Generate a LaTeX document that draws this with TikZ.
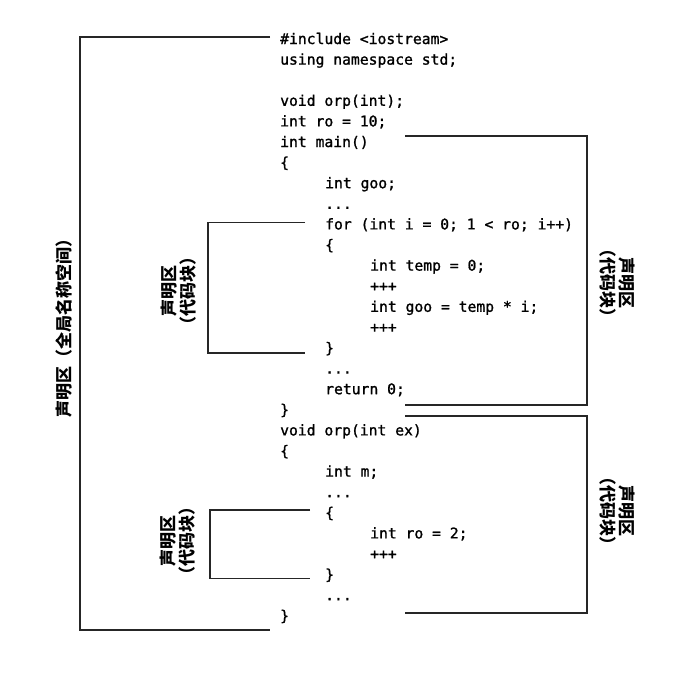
\documentclass[tikz,border=0pt]{standalone}
\usepackage{fontspec}
\setmonofont[FakeBold=1.2]{DejaVu Sans Mono}
\newfontfamily\cjk{Noto Sans CJK SC}

\tikzset{
  code/.style={anchor=west, inner sep=0pt, text height=11pt, text depth=3pt,
    font=\ttfamily\fontsize{14.7}{17}\selectfont},
  brk/.style={line width=1.7pt, color=black!85},
  zone/.style={font=\cjk\bfseries\fontsize{17}{19}\selectfont, align=center, inner sep=0pt}
}

\begin{document}
\begin{tikzpicture}[x=1pt, y=-1pt]
\useasboundingbox (0,0) rectangle (687,672);

% 代码
\node[code] (inc)    at (280, 40.0)  {\#include <iostream>};
\node[code] (usens)  at (280, 60.6)  {using namespace std;};
\node[code] (decl)   at (280, 101.8) {void orp(int);};
\node[code] (ro10)   at (280, 122.4) {int ro = 10;};
\node[code] (mainhd) at (280, 143.0) {int main()};
\node[code] (mainop) at (280, 163.6) {\{};
\node[code] (goo)    at (325, 184.2) {int goo;};
\node[code] (dotsA)  at (325, 204.8) {...};
\node[code] (forhd)  at (325, 225.4) {for (int i = 0; 1 < ro; i++)};
\node[code] (forop)  at (325, 246.0) {\{};
\node[code] (temp)   at (370, 266.6) {int temp = 0;};
\node[code] (plusA)  at (370, 287.2) {+++};
\node[code] (goo2)   at (370, 307.8) {int goo = temp * i;};
\node[code] (plusB)  at (370, 328.4) {+++};
\node[code] (forcl)  at (325, 349.0) {\}};
\node[code] (dotsB)  at (325, 369.6) {...};
\node[code] (ret)    at (325, 390.2) {return 0;};
\node[code] (maincl) at (280, 410.8) {\}};
\node[code] (orphd)  at (280, 431.4) {void orp(int ex)};
\node[code] (orpop)  at (280, 452.0) {\{};
\node[code] (intm)   at (325, 472.6) {int m;};
\node[code] (dotsC)  at (325, 493.2) {...};
\node[code] (blkop)  at (325, 513.8) {\{};
\node[code] (ro2)    at (370, 534.4) {int ro = 2;};
\node[code] (plusC)  at (370, 555.0) {+++};
\node[code] (blkcl)  at (325, 575.6) {\}};
\node[code] (dotsD)  at (325, 596.2) {...};
\node[code] (orpcl)  at (280, 616.8) {\}};

% 声明区的括线
\draw[brk] ([xshift=-10pt,yshift=3pt]inc.west) -- ++(-190,0) |- ([xshift=-10pt,yshift=-13pt]orpcl.west);
\draw[brk] ([xshift=125pt,yshift=7pt]mainhd.west) -- ++(182,0) |- ([xshift=125pt,yshift=6pt]maincl.west);
\draw[brk] ([xshift=125pt,yshift=-5pt]maincl.west) -- ++(182,0) |- ([xshift=125pt,yshift=4pt]orpcl.west);
\draw[brk] ([xshift=-20pt,yshift=3pt]forhd.west) -- ++(-97,0) |- ([xshift=-20pt,yshift=-4pt]forcl.west);
\draw[brk] ([xshift=-15pt,yshift=4pt]blkop.west) -- ++(-100,0) |- ([xshift=-15pt,yshift=-3pt]blkcl.west);

% 标注
\node[zone, rotate=90]  (lblglob) at (64, 324)  {声明区（全局名称空间）};
\node[zone, rotate=-90] (lblmain) at (617, 283) {声明区\\（代码块）};
\node[zone, rotate=-90] (lblorp)  at (617, 511) {声明区\\（代码块）};
\node[zone, rotate=90]  (lblfor)  at (179, 291) {声明区\\（代码块）};
\node[zone, rotate=90]  (lblblk)  at (178, 541) {声明区\\（代码块）};
\end{tikzpicture}
\end{document}
